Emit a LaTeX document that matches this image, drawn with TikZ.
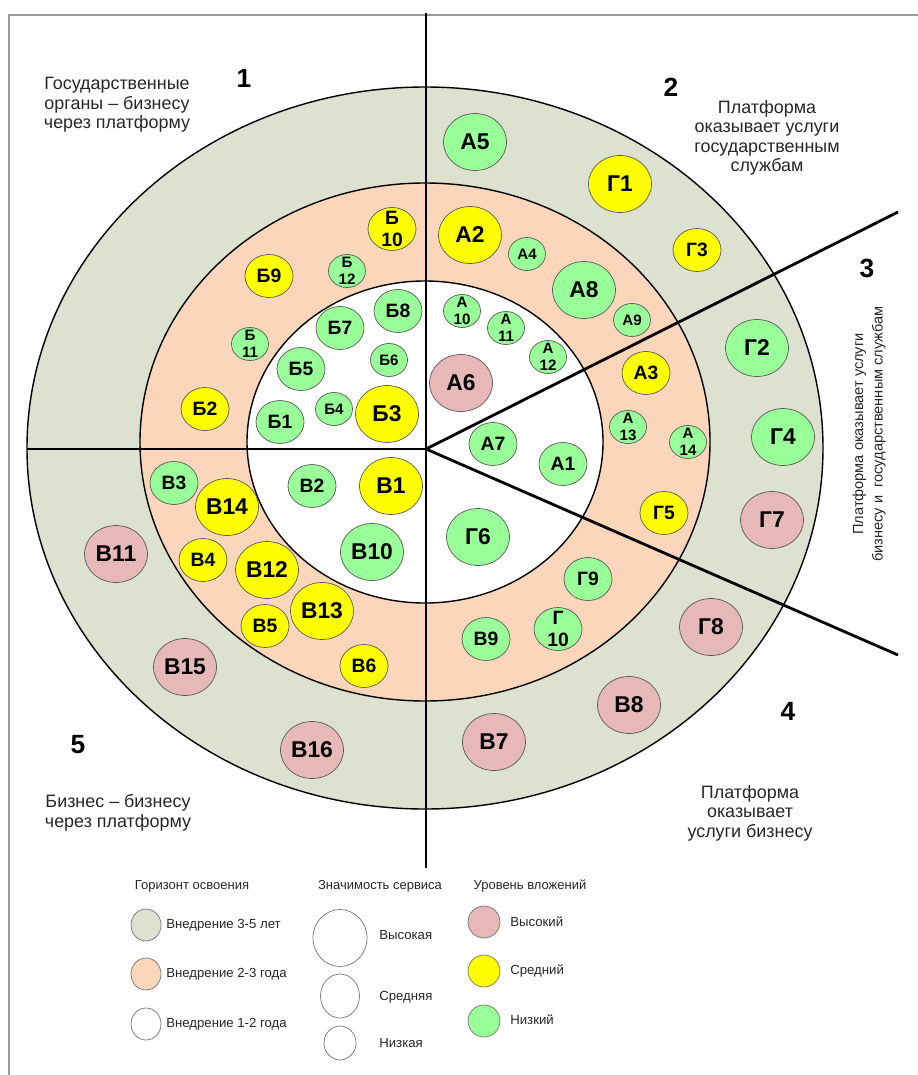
\documentclass[tikz,border=0pt]{standalone}
\usepackage{fontspec}
\setmainfont{Liberation Sans}
\usetikzlibrary{shapes.geometric}
\definecolor{ringfar}{RGB}{221,225,207}
\definecolor{ringmid}{RGB}{251,214,186}
\definecolor{invhigh}{RGB}{230,184,183}
\definecolor{invmed}{RGB}{255,255,0}
\definecolor{invlow}{RGB}{153,255,153}

\begin{document}
\begin{tikzpicture}[x=0.02cm, y=-0.02cm]
	\tikzstyle{svc} = [ellipse, draw=black!65, line width=0.4pt, inner sep=-8pt, align=center]
	\tikzstyle{big} = [svc, minimum width=1.26cm, minimum height=1.14cm, font=\fontsize{13}{15}\selectfont\bfseries]
	\tikzstyle{mean} = [svc, minimum width=0.96cm, minimum height=0.86cm, font=\fontsize{11}{12.5}\selectfont\bfseries]
	\tikzstyle{little} = [svc, minimum width=0.74cm, minimum height=0.66cm, font=\fontsize{8.6}{9.6}\selectfont\bfseries]
	\tikzstyle{hi} = [fill=invhigh]
	\tikzstyle{me} = [fill=invmed]
	\tikzstyle{lo} = [fill=invlow]
	\tikzstyle{divider} = [line width=1.6pt]
	\tikzstyle{note} = [align=center, text=black!85, font=\fontsize{10.2}{11.1}\selectfont]
	\tikzstyle{num} = [font=\fontsize{15}{18}\selectfont\bfseries]
	\tikzstyle{key} = [ellipse, draw=black!55, line width=0.4pt, inner sep=0pt]
	\tikzstyle{keyhead} = [text=black!85, font=\fontsize{7.4}{8.4}\selectfont]
	\tikzstyle{keytext} = [anchor=west, inner sep=0pt, text=black!85, font=\fontsize{7.5}{9}\selectfont]
	\useasboundingbox (0,0) rectangle (918,1075);
	% frame of the page
	\draw[black!40, line width=1pt] (9,1075) -- (9,15) -- (918,15);
	% rings
	\draw[line width=0.8pt, fill=ringfar] (425,448) ellipse (398 and 361);
	\draw[line width=0.8pt, fill=ringmid] (425,442) ellipse (285 and 259);
	\draw[line width=0.8pt, fill=white] (425,442) ellipse (178 and 161);
	% sectors
	\coordinate (o) at (426,449);
	\coordinate (n) at (426,13);
	\coordinate (s) at (426,868);
	\coordinate (w) at (27,449);
	\coordinate (ne) at (898,212);
	\coordinate (se) at (898,655);
	\path[divider] (o) edge (n)
	(o) edge (s)
	(o) edge (w)
	(o) edge (ne)
	(o) edge (se);
	% sector 1
	\node[mean,me](b10)at (392,229){Б\\10};
	\node[mean,me](b9)at (269,276){Б9};
	\node[little,lo](b12)at (347,271){Б\\12};
	\node[mean,lo](b8)at (398,311){Б8};
	\node[mean,lo](b7)at (340,328){Б7};
	\node[little,lo](b11)at (250,344){Б\\11};
	\node[mean,lo](b5)at (301,369){Б5};
	\node[little,lo](b6)at (389,360){Б6};
	\node[mean,me](b2)at (205,409){Б2};
	\node[mean,lo](b1)at (280,422){Б1};
	\node[little,lo](b4)at (334,409){Б4};
	\node[big,me](b3)at (387,414){Б3};
	% sector 2
	\node[big,lo](a5)at (475,142){А5};
	\node[big,me](a2)at (470,235){А2};
	\node[little,lo](a4)at (527,254){А4};
	\node[big,lo](a8)at (584,290){А8};
	\node[little,lo](a9)at (632,320){А9};
	\node[little,lo](a10)at (462,311){А\\10};
	\node[little,lo](a11)at (506,328){А\\11};
	\node[little,lo](a12)at (548,357){А\\12};
	\node[big,hi](a6)at (461,383){А6};
	\node[big,me](g1)at (620,184){Г1};
	\node[mean,me](g3)at (697,250){Г3};
	% sector 3
	\node[mean,me](a3)at (646,373){А3};
	\node[little,lo](a13)at (628,427){А\\13};
	\node[little,lo](a14)at (688,442){А\\14};
	\node[mean,lo](a7)at (493,444){А7};
	\node[mean,lo](a1)at (563,464){А1};
	\node[big,lo](g2)at (757,348){Г2};
	\node[big,lo](g4)at (783,437){Г4};
	\node[mean,me](g5)at (664,513){Г5};
	\node[big,hi](g7)at (772,520){Г7};
	% sector 4
	\node[big,lo](g6)at (478,537){Г6};
	\node[mean,lo](g9)at (588,579){Г9};
	\node[big,hi](g8)at (711,627){Г8};
	\node[mean,lo](g10)at (558,629){Г\\10};
	\node[mean,lo](v9)at (486,639){В9};
	\node[big,hi](v8)at (629,705){В8};
	\node[big,hi](v7)at (494,742){В7};
	% sector 5
	\node[mean,lo](v3)at (174,483){В3};
	\node[mean,lo](v2)at (312,486){В2};
	\node[big,me](v1)at (391,486){В1};
	\node[big,me](v14)at (227,507){В14};
	\node[big,hi](v11)at (116,554){В11};
	\node[big,lo](v10)at (372,552){В10};
	\node[mean,me](v4)at (203,560){В4};
	\node[big,me](v12)at (267,570){В12};
	\node[big,me](v13)at (322,611){В13};
	\node[mean,me](v5)at (265,626){В5};
	\node[big,hi](v15)at (185,667){В15};
	\node[mean,me](v6)at (364,666){В6};
	\node[big,hi](v16)at (312,750){В16};
	% sector titles
	\node[num](one)at (244,78){1};
	\node[num](two)at (671,87){2};
	\node[num](three)at (867,268){3};
	\node[num](four)at (788,711){4};
	\node[num](five)at (78,745){5};
	\node[note](gov)at (117,105){Государственные\\органы -- бизнесу\\через платформу};
	\node[note](platgov)at (767,138){Платформа\\оказывает услуги\\государственным\\службам};
	\node[note, rotate=90, font=\fontsize{8.3}{11.1}\selectfont](platboth)at (869,434){Платформа оказывает услуги\\бизнесу и~~государственным службам};
	\node[note](platbiz)at (750,813){Платформа\\оказывает\\услуги бизнесу};
	\node[note](biz)at (118,813){Бизнес -- бизнесу\\через платформу};
	% legend
	\node[keyhead](horizon)at (192,886){Горизонт освоения};
	\node[key, fill=ringfar, minimum width=0.6cm, minimum height=0.64cm](h35)at (146,925){};
	\node[key, fill=ringmid, minimum width=0.6cm, minimum height=0.64cm](h23)at (146,974){};
	\node[key, fill=white, minimum width=0.6cm, minimum height=0.64cm](h12)at (146,1024){};
	\node[keytext](t35)at (166,925){Внедрение 3-5 лет};
	\node[keytext](t23)at (166,974){Внедрение 2-3 года};
	\node[keytext](t12)at (166,1024){Внедрение 1-2 года};
	\node[keyhead](weight)at (380,886){Значимость сервиса};
	\node[key, minimum width=1.08cm, minimum height=1.14cm](shigh)at (340,938){};
	\node[key, minimum width=0.78cm, minimum height=0.88cm](smed)at (340,996){};
	\node[key, minimum width=0.64cm, minimum height=0.68cm](slow)at (340,1043){};
	\node[keytext](tshigh)at (379,935){Высокая};
	\node[keytext](tsmed)at (379,997){Средняя};
	\node[keytext](tslow)at (379,1043){Низкая};
	\node[keyhead](invest)at (530,886){Уровень вложений};
	\node[key, hi, minimum width=0.64cm, minimum height=0.64cm](ihigh)at (484,922){};
	\node[key, me, minimum width=0.64cm, minimum height=0.64cm](imed)at (484,971){};
	\node[key, lo, minimum width=0.64cm, minimum height=0.64cm](ilow)at (484,1021){};
	\node[keytext](tihigh)at (510,922){Высокий};
	\node[keytext](timed)at (510,971){Средний};
	\node[keytext](tilow)at (510,1020){Низкий};
\end{tikzpicture}
\end{document}
